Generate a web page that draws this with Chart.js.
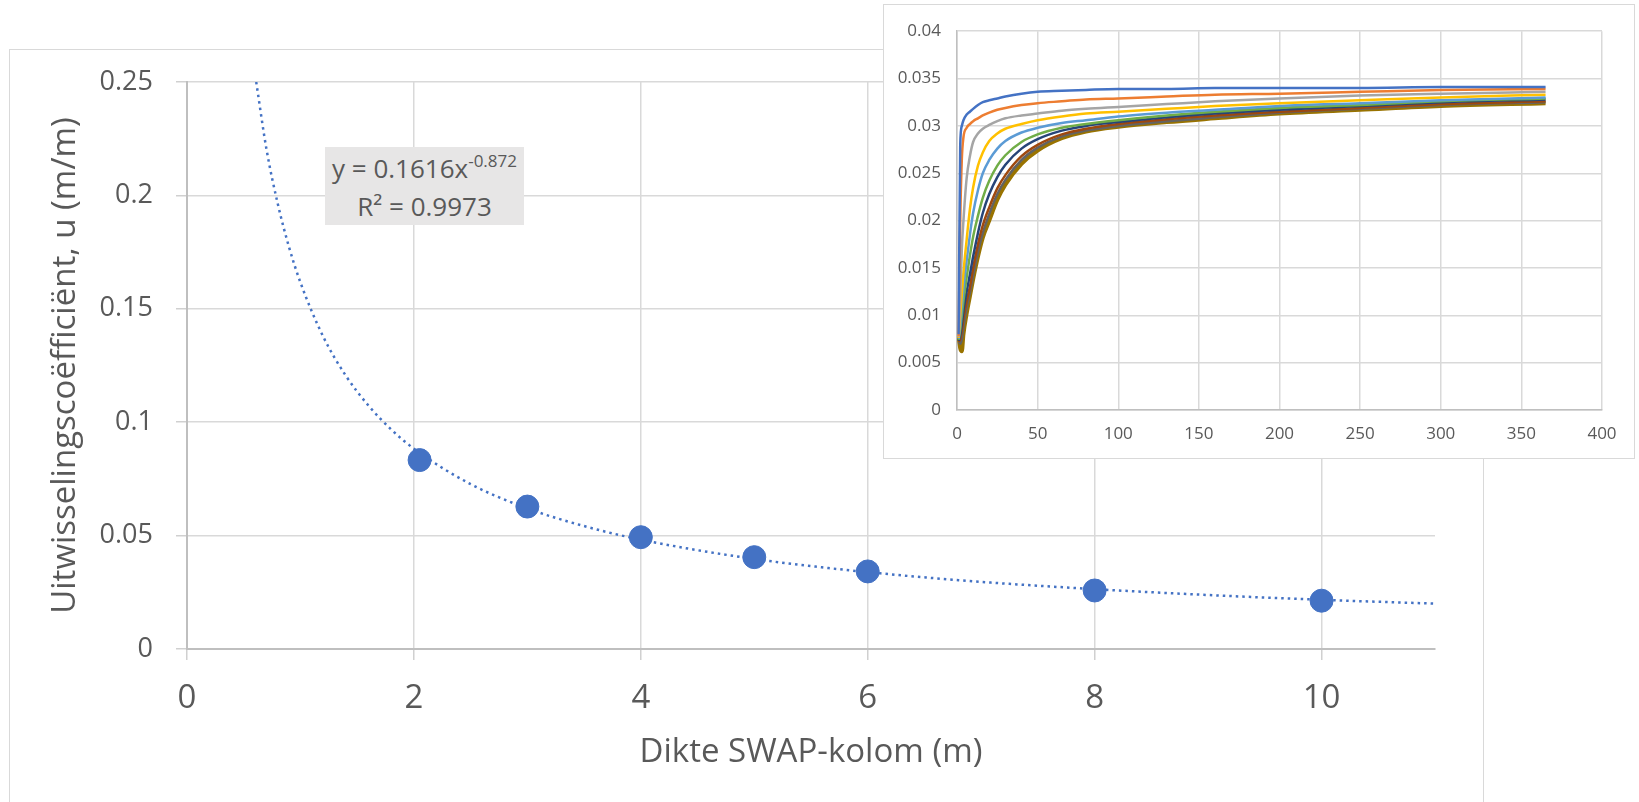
<!DOCTYPE html>
<html>
<head>
<meta charset="utf-8">
<script src="https://cdn.jsdelivr.net/npm/chart.js@4.4.1/dist/chart.umd.min.js"></script>
<style>
html,body{margin:0;padding:0;background:#fff;overflow:hidden;width:1639px;height:802px;position:relative;font-family:'Open Sans',sans-serif}
#frame{position:absolute;left:9px;top:49px;width:1475px;height:800px;border:1.5px solid #d9d9d9;box-sizing:border-box}
#main{position:absolute;left:0;top:0}
#eq{position:absolute;left:325px;top:147px;width:199px;height:78px;background:#e7e6e6;color:#595959;font-size:26px;text-align:center;line-height:34px;padding-top:4px;box-sizing:border-box;white-space:nowrap}
#eq .sup{font-size:17px;position:relative;top:-11px}
#inset{position:absolute;left:883px;top:4px;width:752px;height:455px;border:1.5px solid #d9d9d9;background:#fff;box-sizing:border-box}
#small{position:absolute;left:0;top:0}
</style>
</head>
<body>
<div id="frame"></div>
<canvas id="main" width="1639" height="802"></canvas>
<div id="eq">y = 0.1616x<span class="sup">-0.872</span><br>R² = 0.9973</div>
<div id="inset"><canvas id="small" width="749" height="452"></canvas></div>
<script>
// main chart: exchange coefficient vs column thickness
const thickness=[2.05,3,4,5,6,8,10]
const exchangeCoef=[0.0833,0.0628,0.0493,0.0405,0.0342,0.0258,0.0213]
// power trendline
const trendX=[0.61,0.7,0.8,0.9,1,1.2,1.4,1.6,1.8,2,2.5,3,3.5,4,5,6,7,8,9,10,11]
const trendY=[0.250,0.2205,0.1963,0.1771,0.1616,0.1378,0.1205,0.1073,0.0968,0.0883,0.0727,0.0620,0.0542,0.0482,0.0397,0.0339,0.0296,0.0264,0.0238,0.0217,0.0200]
const xTicks=[0,2,4,6,8,10]
const yTicks=[0,0.05,0.1,0.15,0.2,0.25]

// inset: u over time (days) for the different column thicknesses
const days=[1,2,3,4,6,8,10,13,16,20,25,30,40,50,65,80,100,130,160,200,250,300,365]
const run1=[0.0080,0.0280,0.0300,0.0306,0.0312,0.0315,0.0318,0.0322,0.0325,0.0327,0.0329,0.0331,0.0334,0.0336,0.0337,0.0338,0.0339,0.0339,0.0340,0.0340,0.0340,0.0341,0.0341]
const run2=[0.0078,0.0200,0.0265,0.0288,0.0298,0.0302,0.0305,0.0308,0.0311,0.0314,0.0317,0.0319,0.0322,0.0324,0.0326,0.0328,0.0329,0.0331,0.0333,0.0334,0.0336,0.0338,0.0339]
const run3=[0.0077,0.0120,0.0170,0.0200,0.0245,0.0268,0.0283,0.0292,0.0297,0.0301,0.0305,0.0308,0.0311,0.0313,0.0316,0.0318,0.0320,0.0323,0.0326,0.0329,0.0332,0.0334,0.0336]
const run4=[0.0076,0.0100,0.0122,0.0145,0.0180,0.0212,0.0235,0.0258,0.0272,0.0284,0.0292,0.0297,0.0302,0.0306,0.0310,0.0313,0.0315,0.0318,0.0321,0.0324,0.0327,0.0330,0.0333]
const run5=[0.0075,0.0090,0.0110,0.0128,0.0158,0.0185,0.0208,0.0232,0.0250,0.0264,0.0276,0.0284,0.0293,0.0298,0.0303,0.0306,0.0310,0.0314,0.0317,0.0321,0.0324,0.0327,0.0330]
const run6=[0.0074,0.0085,0.0100,0.0115,0.0140,0.0163,0.0183,0.0205,0.0224,0.0242,0.0258,0.0269,0.0283,0.0291,0.0298,0.0302,0.0306,0.0311,0.0315,0.0319,0.0322,0.0326,0.0329]
const run7=[0.0073,0.0080,0.0092,0.0105,0.0125,0.0143,0.0162,0.0187,0.0208,0.0228,0.0246,0.0259,0.0276,0.0286,0.0295,0.0300,0.0304,0.0309,0.0313,0.0317,0.0321,0.0325,0.0328]
const run8=[0.0072,0.0075,0.0085,0.0097,0.0115,0.0130,0.0150,0.0175,0.0195,0.0214,0.0234,0.0248,0.0268,0.0280,0.0291,0.0297,0.0302,0.0307,0.0311,0.0315,0.0319,0.0323,0.0326]
const run9=[0.0072,0.0070,0.0075,0.0088,0.0108,0.0124,0.0142,0.0167,0.0187,0.0207,0.0228,0.0243,0.0264,0.0277,0.0289,0.0295,0.0300,0.0305,0.0309,0.0314,0.0318,0.0322,0.0325]
const run10=[0.0078,0.0065,0.0062,0.0080,0.0102,0.0120,0.0138,0.0162,0.0182,0.0200,0.0222,0.0238,0.0260,0.0274,0.0287,0.0294,0.0299,0.0304,0.0308,0.0313,0.0317,0.0321,0.0324]
const runColors=['#4472C4','#ED7D31','#A5A5A5','#FFC000','#5B9BD5','#70AD47','#264478','#9E480E','#636363','#997300']
const insetXTicks=[0,50,100,150,200,250,300,350,400]
const insetYTicks=[0,0.005,0.01,0.015,0.02,0.025,0.03,0.035,0.04]

Chart.defaults.font.family="'Open Sans', sans-serif"
Chart.defaults.color='#595959'

const fmt=v=>String(parseFloat(v.toFixed(3)))

let mainChart=new Chart(document.getElementById('main'),{
    type:'scatter',
    data:{
        datasets:[{
            data:thickness.map((x,i)=>({x:x,y:exchangeCoef[i]})),
            backgroundColor:'#4472C4',
            borderColor:'#4472C4',
            pointRadius:11.5,
            pointHoverRadius:11.5,
            order:0
        },{
            type:'line',
            data:trendX.map((x,i)=>({x:x,y:trendY[i]})),
            borderColor:'#4472C4',
            borderWidth:2.5,
            borderDash:[2.5,4],
            pointRadius:0,
            fill:false,
            cubicInterpolationMode:'monotone',
            order:1
        }]
    },
    options:{
        responsive:false,
        animation:false,
        devicePixelRatio:1,
        layout:{padding:{left:0,top:82,right:204,bottom:0}},
        plugins:{legend:{display:false},tooltip:{enabled:false}},
        scales:{
            x:{
                type:'linear',min:0,max:11,
                afterBuildTicks:s=>{s.ticks=xTicks.map(v=>({value:v}))},
                afterFit:s=>{s.height=153},
                grid:{color:'#d9d9d9',lineWidth:1.5,tickLength:11,tickColor:'#d0d0d0'},
                border:{color:'#bfbfbf',width:2},
                ticks:{color:'#595959',font:{size:33},padding:19,maxRotation:0,autoSkip:false,callback:v=>fmt(v)},
                title:{display:true,text:'Dikte SWAP-kolom (m)',color:'#595959',font:{size:33},padding:{top:0,bottom:30}}
            },
            y:{
                type:'linear',min:0,max:0.25,
                afterBuildTicks:s=>{s.ticks=yTicks.map(v=>({value:v}))},
                afterFit:s=>{s.width=187},
                grid:{color:'#d9d9d9',lineWidth:1.5,tickLength:11,tickColor:'#d0d0d0'},
                border:{color:'#bfbfbf',width:2},
                ticks:{color:'#595959',font:{size:27},padding:23,autoSkip:false,callback:v=>fmt(v)},
                title:{display:true,text:'Uitwisselingscoëfficiënt, u (m/m)',color:'#595959',font:{size:33},padding:{top:46,bottom:0}}
            }
        }
    }
})

let insetChart=new Chart(document.getElementById('small'),{
    type:'line',
    data:{
        datasets:[run1,run2,run3,run4,run5,run6,run7,run8,run9,run10].map((run,i)=>({
            data:days.map((d,j)=>({x:d,y:run[j]})),
            borderColor:runColors[i],
            borderWidth:i==9?4:2.5,
            pointRadius:0,
            fill:false,
            cubicInterpolationMode:'monotone'
        }))
    },
    options:{
        responsive:false,
        animation:false,
        devicePixelRatio:1,
        layout:{padding:{left:0,top:22.5,right:31,bottom:0}},
        plugins:{legend:{display:false},tooltip:{enabled:false}},
        scales:{
            x:{
                type:'linear',min:0,max:400,
                afterBuildTicks:s=>{s.ticks=insetXTicks.map(v=>({value:v}))},
                afterFit:s=>{s.height=47},
                grid:{color:'#d9d9d9',lineWidth:1.5,drawTicks:false},
                border:{color:'#bfbfbf',width:1.5},
                ticks:{color:'#595959',font:{size:17},padding:14,maxRotation:0,autoSkip:false,callback:v=>fmt(v)}
            },
            y:{
                type:'linear',min:0,max:0.04,
                afterBuildTicks:s=>{s.ticks=insetYTicks.map(v=>({value:v}))},
                afterFit:s=>{s.width=73},
                grid:{color:'#d9d9d9',lineWidth:1.5,drawTicks:false},
                border:{color:'#bfbfbf',width:1.5},
                ticks:{color:'#595959',font:{size:17},padding:16,autoSkip:false,callback:v=>fmt(v)}
            }
        }
    }
})
</script>
</body>
</html>
